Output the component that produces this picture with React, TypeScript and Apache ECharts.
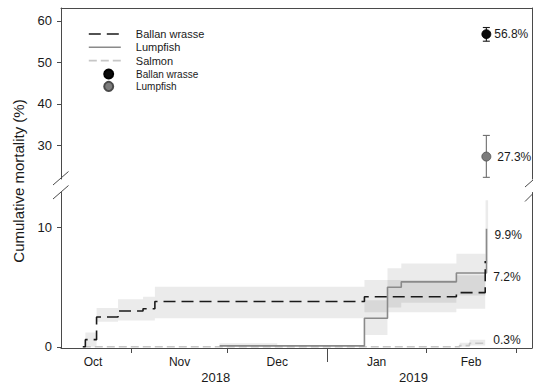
import React, { useEffect, useRef } from 'react';
import * as echarts from 'echarts';

const FONT = '"Liberation Sans", Arial, Helvetica, sans-serif';
const AXIS_COLOR = '#4a4a4a';
const TEXT_COLOR = '#1a1a1a';
const BAND_FILL = 'rgba(0,0,0,0.078)';

// x values are days counted from 1 Oct 2018 (day 0)
const xMin = 9;
const xMax = 156;
const monthStartDays = [31, 61, 92, 123, 151];
const monthLabelDays = [19, 46, 76.5, 107.5, 137];
const monthLabels = ['Oct', 'Nov', 'Dec', 'Jan', 'Feb'];
const yearLabelDays = [57.3, 119];
const yearLabels = ['2018', '2019'];
const yearBoundaryDays = [92];

const upperTicks = [30, 40, 50, 60];
const lowerTicks = [0, 10];

// Stepwise cumulative mortality (%) with confidence bands
const ballanDays = [15.8, 16.6, 20.1, 26.8, 34.6, 38.3, 103.7, 132.4, 141.4];
const ballanMortality = [0, 0.6, 2.5, 3.0, 3.2, 3.8, 4.2, 4.55, 7.2];
const ballanBandDays = [16.6, 20.1, 26.8, 34.6, 38.3, 103.7, 132.4, 141.4];
const ballanBandLow = [0, 2.1, 2.2, 2.2, 2.4, 2.9, 3.2, 4.6];
const ballanBandHigh = [1.2, 3.25, 4.0, 4.2, 5.05, 5.6, 6.0, 10.0];

const lumpDays = [58.5, 103.7, 110.9, 115.2, 132.4, 141.8];
const lumpMortality = [0.08, 2.4, 5.0, 5.45, 6.2, 9.9];
const lumpBandDays = [58.5, 76.5, 103.7, 110.9, 115.2, 132.4, 141.5, 142.3];
const lumpBandLow = [0, 0.08, 1.0, 3.3, 3.7, 4.3, 7.0, 7.0];
const lumpBandHigh = [0.3, 0.08, 3.9, 6.6, 7.0, 7.8, 12.3, 12.3];

const salmonDays = [15.8, 133.4, 136.5, 141.4];
const salmonMortality = [0, 0.1, 0.3, 0.3];
const salmonBandDays = [133.4, 136.5, 141.4];
const salmonBandLow = [0, 0.1, 0.1];
const salmonBandHigh = [0.35, 0.6, 0.6];

// Final cumulative mortality with confidence interval (upper panel)
const finalDay = 141.75;
const finalSpecies = ['Ballan wrasse', 'Lumpfish'];
const finalSeriesNames = ['Ballan wrasse final', 'Lumpfish final'];
const finalMortality = [56.8, 27.3];
const finalLow = [55.1, 22.3];
const finalHigh = [58.4, 32.4];
const finalColors = ['#0a0a0a', '#7c7c7c'];
const finalBorders = ['#000000', '#4a4a4a'];
const errorColors = ['#1a1a1a', '#6e6e6e'];

const pairs = (xs: number[], ys: number[]) => xs.map((x, i) => [x, ys[i]]);

const lookupLabel = (days: number[], labels: string[]) => (v: number) => {
  const i = days.findIndex((d) => Math.abs(d - v) < 0.01);
  return i >= 0 ? labels[i] : '';
};

// Confidence band as one stepped polygon between the low and high curves
function bandSeries(days: number[], low: number[], high: number[]) {
  return {
    type: 'custom',
    xAxisIndex: 1,
    yAxisIndex: 2,
    silent: true,
    z: 1,
    data: days.map((d, i) => [d, low[i], high[i]]),
    encode: { x: 0, y: [1, 2] },
    renderItem: (params: any, api: any) => {
      if (params.dataIndex !== 0) return null;
      const top: number[][] = [];
      const bottom: number[][] = [];
      for (let i = 0; i < days.length; i++) {
        if (i > 0) {
          top.push(api.coord([days[i], high[i - 1]]));
          bottom.push(api.coord([days[i], low[i - 1]]));
        }
        top.push(api.coord([days[i], high[i]]));
        bottom.push(api.coord([days[i], low[i]]));
      }
      return {
        type: 'polygon',
        shape: { points: top.concat(bottom.reverse()) },
        style: { fill: BAND_FILL, stroke: 'none' },
      };
    },
  };
}

function valueAxisBase() {
  return {
    type: 'value',
    axisLine: { show: true, onZero: false, lineStyle: { color: AXIS_COLOR, width: 1 } },
    splitLine: { show: false },
  };
}

export default function App() {
  const ref = useRef<HTMLDivElement>(null);

  useEffect(() => {
    if (!ref.current) return;
    const chart = echarts.init(ref.current, null, { renderer: 'svg' });

    const lineLabel = (dy: number) => ({
      show: true,
      distance: 8,
      offset: [0, dy],
      color: TEXT_COLOR,
      fontSize: 12,
      fontFamily: FONT,
      formatter: (p: any) => `${p.value[1].toFixed(1)}%`,
    });

    const option: any = {
      animation: false,
      backgroundColor: '#ffffff',
      textStyle: { fontFamily: FONT },
      grid: [
        { left: 61, right: 1, top: 8, height: 171, outerBoundsMode: 'none' },
        { left: 61, right: 1, top: 192.5, bottom: 36, outerBoundsMode: 'none' },
      ],
      xAxis: [
        {
          ...valueAxisBase(),
          gridIndex: 0,
          position: 'top',
          min: xMin,
          max: xMax,
          axisTick: { show: false },
          axisLabel: { show: false },
        },
        {
          ...valueAxisBase(),
          gridIndex: 1,
          position: 'bottom',
          min: xMin,
          max: xMax,
          axisTick: {
            show: true,
            length: 5,
            customValues: monthStartDays,
            lineStyle: { color: AXIS_COLOR },
          },
          axisLabel: {
            show: true,
            customValues: monthLabelDays,
            formatter: lookupLabel(monthLabelDays, monthLabels),
            margin: 8,
            fontSize: 12,
            color: TEXT_COLOR,
            fontFamily: FONT,
            hideOverlap: false,
          },
        },
        {
          ...valueAxisBase(),
          gridIndex: 1,
          position: 'bottom',
          min: xMin,
          max: xMax,
          axisLine: { show: false, onZero: false },
          axisTick: {
            show: true,
            length: 14,
            customValues: yearBoundaryDays,
            lineStyle: { color: AXIS_COLOR },
          },
          axisLabel: {
            show: true,
            customValues: yearLabelDays,
            formatter: lookupLabel(yearLabelDays, yearLabels),
            margin: 23,
            fontSize: 13,
            color: TEXT_COLOR,
            fontFamily: FONT,
            hideOverlap: false,
          },
        },
      ],
      yAxis: [
        {
          ...valueAxisBase(),
          gridIndex: 0,
          position: 'left',
          min: 21.9,
          max: 63.1,
          axisTick: { show: true, length: 4, customValues: upperTicks, lineStyle: { color: AXIS_COLOR } },
          axisLabel: {
            show: true,
            customValues: upperTicks,
            margin: 9,
            fontSize: 13,
            color: TEXT_COLOR,
            fontFamily: FONT,
          },
        },
        {
          ...valueAxisBase(),
          gridIndex: 0,
          position: 'right',
          min: 21.9,
          max: 63.1,
          axisTick: { show: false },
          axisLabel: { show: false },
        },
        {
          ...valueAxisBase(),
          gridIndex: 1,
          position: 'left',
          min: -0.1,
          max: 12.95,
          axisTick: { show: true, length: 4, customValues: lowerTicks, lineStyle: { color: AXIS_COLOR } },
          axisLabel: {
            show: true,
            customValues: lowerTicks,
            margin: 9,
            fontSize: 13,
            color: TEXT_COLOR,
            fontFamily: FONT,
          },
        },
        {
          ...valueAxisBase(),
          gridIndex: 1,
          position: 'right',
          min: -0.1,
          max: 12.95,
          axisTick: { show: false },
          axisLabel: { show: false },
        },
      ],
      legend: [
        {
          left: 88,
          top: 28,
          orient: 'vertical',
          selectedMode: false,
          itemWidth: 32,
          itemHeight: 12,
          itemGap: 1.3,
          padding: 0,
          lineStyle: { width: 1.6 },
          itemStyle: { color: 'rgba(0,0,0,0)', borderWidth: 0, opacity: 0 },
          textStyle: {
            fontSize: 11,
            lineHeight: 12,
            color: TEXT_COLOR,
            fontFamily: FONT,
            padding: [0, 0, 0, 10],
          },
          data: ['Ballan wrasse', 'Lumpfish', 'Salmon'],
        },
        {
          left: 103.2,
          top: 68.5,
          orient: 'vertical',
          selectedMode: false,
          itemWidth: 9,
          itemHeight: 9,
          itemGap: 1.4,
          padding: 0,
          formatter: lookupLabel(
            finalSeriesNames.map((_n, i) => i),
            finalSpecies
          ) as any,
          textStyle: {
            fontSize: 10,
            lineHeight: 9,
            color: TEXT_COLOR,
            fontFamily: FONT,
            padding: [0, 0, 0, 17.8],
          },
          data: finalSeriesNames,
        },
      ],
      graphic: [
        {
          type: 'text',
          x: 18,
          y: 181,
          rotation: Math.PI / 2,
          style: {
            text: 'Cumulative mortality (%)',
            fontSize: 15,
            fontFamily: FONT,
            fill: TEXT_COLOR,
            align: 'center',
            verticalAlign: 'middle',
          },
        },
        // axis break marks
        { type: 'line', shape: { x1: 53, y1: 185, x2: 68.5, y2: 171.5 }, style: { stroke: AXIS_COLOR, lineWidth: 1 } },
        { type: 'line', shape: { x1: 53, y1: 199, x2: 68.5, y2: 185.5 }, style: { stroke: AXIS_COLOR, lineWidth: 1 } },
        { type: 'line', shape: { x1: 525, y1: 187, x2: 533, y2: 180 }, style: { stroke: AXIS_COLOR, lineWidth: 1 } },
        { type: 'line', shape: { x1: 525, y1: 201.5, x2: 533, y2: 193.5 }, style: { stroke: AXIS_COLOR, lineWidth: 1 } },
      ],
      series: [
        {
          type: 'line',
          name: 'Ballan wrasse',
          xAxisIndex: 1,
          yAxisIndex: 2,
          step: 'end',
          symbol: 'none',
          z: 4,
          lineStyle: { color: '#1a1a1a', width: 1.6, type: [12, 6] },
          itemStyle: { color: '#1a1a1a' },
          data: pairs(ballanDays, ballanMortality),
          endLabel: lineLabel(16),
        },
        {
          type: 'line',
          name: 'Lumpfish',
          xAxisIndex: 1,
          yAxisIndex: 2,
          step: 'end',
          symbol: 'none',
          z: 3,
          lineStyle: { color: '#8a8a8a', width: 1.6 },
          itemStyle: { color: '#8a8a8a' },
          data: pairs(lumpDays, lumpMortality),
          endLabel: lineLabel(6),
        },
        {
          type: 'line',
          name: 'Salmon',
          xAxisIndex: 1,
          yAxisIndex: 2,
          step: 'end',
          symbol: 'none',
          z: 2,
          lineStyle: { color: '#c6c6c6', width: 1.6, type: [8, 4] },
          itemStyle: { color: '#c6c6c6' },
          data: pairs(salmonDays, salmonMortality),
          endLabel: lineLabel(-3),
        },
        bandSeries(ballanBandDays, ballanBandLow, ballanBandHigh),
        bandSeries(lumpBandDays, lumpBandLow, lumpBandHigh),
        bandSeries(salmonBandDays, salmonBandLow, salmonBandHigh),
        {
          type: 'custom',
          xAxisIndex: 0,
          yAxisIndex: 0,
          silent: true,
          z: 5,
          data: finalSpecies.map((_s, i) => [finalDay, finalLow[i], finalHigh[i], i]),
          encode: { x: 0, y: [1, 2] },
          renderItem: (_params: any, api: any) => {
            const x = api.value(0);
            const lo = api.coord([x, api.value(1)]);
            const hi = api.coord([x, api.value(2)]);
            const stroke = errorColors[api.value(3)];
            const hw = 3.5;
            const style = { stroke, lineWidth: 1.1 };
            return {
              type: 'group',
              children: [
                { type: 'line', shape: { x1: lo[0], y1: lo[1], x2: hi[0], y2: hi[1] }, style },
                { type: 'line', shape: { x1: lo[0] - hw, y1: lo[1], x2: lo[0] + hw, y2: lo[1] }, style },
                { type: 'line', shape: { x1: hi[0] - hw, y1: hi[1], x2: hi[0] + hw, y2: hi[1] }, style },
              ],
            };
          },
        },
        ...finalSpecies.map((_name, i) => ({
          type: 'scatter',
          name: finalSeriesNames[i],
          xAxisIndex: 0,
          yAxisIndex: 0,
          symbol: 'circle',
          symbolSize: 9,
          z: 6,
          itemStyle: { color: finalColors[i], borderColor: finalBorders[i], borderWidth: 0.8, opacity: 1 },
          label: {
            show: true,
            position: 'right',
            distance: i === 0 ? 3 : 6,
            color: TEXT_COLOR,
            fontSize: 12,
            fontFamily: FONT,
            formatter: (p: any) => `${p.value[1].toFixed(1)}%`,
          },
          data: [[finalDay, finalMortality[i]]],
        })),
      ],
    };

    // legend text for the final-point entries shows the species name only
    option.legend[1].formatter = (name: string) => finalSpecies[finalSeriesNames.indexOf(name)] ?? name;

    chart.setOption(option);
    return () => chart.dispose();
  }, []);

  return (
    <div
      ref={ref}
      style={{ position: 'fixed', left: 0, top: 0, width: 533, height: 384, background: '#fff' }}
    />
  );
}
